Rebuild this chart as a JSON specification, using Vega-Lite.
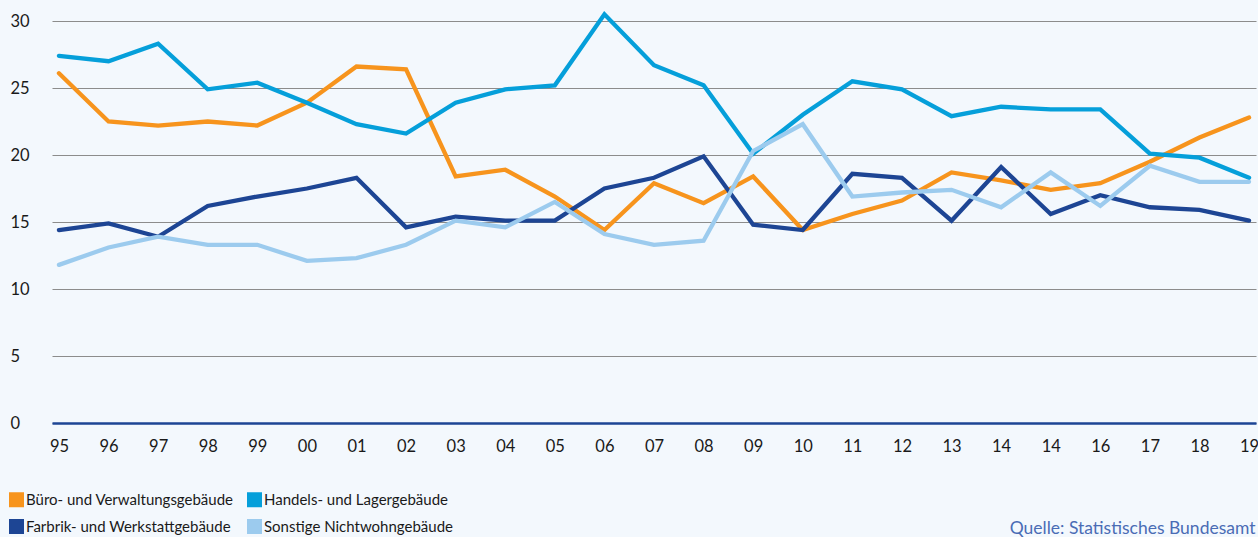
{
  "$schema": "https://vega.github.io/schema/vega-lite/v6.json",
  "autosize": {"type": "none"},
  "padding": {"left": 52, "top": 21, "right": 2, "bottom": 114},
  "width": 1204,
  "height": 402,
  "background": "#f3f8fd",
  "config": {
    "view": {"stroke": null},
    "font": "Lato",
    "axis": {"labelFont": "Lato", "titleFont": "Lato"},
    "legend": {"labelFont": "Lato"}
  },
  "data": {
    "values": [
      {"jahr": "95", "art": "Büro- und Verwaltungsgebäude", "wert": 26.1},
      {"jahr": "96", "art": "Büro- und Verwaltungsgebäude", "wert": 22.5},
      {"jahr": "97", "art": "Büro- und Verwaltungsgebäude", "wert": 22.2},
      {"jahr": "98", "art": "Büro- und Verwaltungsgebäude", "wert": 22.5},
      {"jahr": "99", "art": "Büro- und Verwaltungsgebäude", "wert": 22.2},
      {"jahr": "00", "art": "Büro- und Verwaltungsgebäude", "wert": 23.9},
      {"jahr": "01", "art": "Büro- und Verwaltungsgebäude", "wert": 26.6},
      {"jahr": "02", "art": "Büro- und Verwaltungsgebäude", "wert": 26.4},
      {"jahr": "03", "art": "Büro- und Verwaltungsgebäude", "wert": 18.4},
      {"jahr": "04", "art": "Büro- und Verwaltungsgebäude", "wert": 18.9},
      {"jahr": "05", "art": "Büro- und Verwaltungsgebäude", "wert": 16.9},
      {"jahr": "06", "art": "Büro- und Verwaltungsgebäude", "wert": 14.4},
      {"jahr": "07", "art": "Büro- und Verwaltungsgebäude", "wert": 17.9},
      {"jahr": "08", "art": "Büro- und Verwaltungsgebäude", "wert": 16.4},
      {"jahr": "09", "art": "Büro- und Verwaltungsgebäude", "wert": 18.4},
      {"jahr": "10", "art": "Büro- und Verwaltungsgebäude", "wert": 14.4},
      {"jahr": "11", "art": "Büro- und Verwaltungsgebäude", "wert": 15.6},
      {"jahr": "12", "art": "Büro- und Verwaltungsgebäude", "wert": 16.6},
      {"jahr": "13", "art": "Büro- und Verwaltungsgebäude", "wert": 18.7},
      {"jahr": "14", "art": "Büro- und Verwaltungsgebäude", "wert": 18.1},
      {"jahr": "15", "art": "Büro- und Verwaltungsgebäude", "wert": 17.4},
      {"jahr": "16", "art": "Büro- und Verwaltungsgebäude", "wert": 17.9},
      {"jahr": "17", "art": "Büro- und Verwaltungsgebäude", "wert": 19.5},
      {"jahr": "18", "art": "Büro- und Verwaltungsgebäude", "wert": 21.3},
      {"jahr": "19", "art": "Büro- und Verwaltungsgebäude", "wert": 22.8},
      {"jahr": "95", "art": "Handels- und Lagergebäude", "wert": 27.4},
      {"jahr": "96", "art": "Handels- und Lagergebäude", "wert": 27.0},
      {"jahr": "97", "art": "Handels- und Lagergebäude", "wert": 28.3},
      {"jahr": "98", "art": "Handels- und Lagergebäude", "wert": 24.9},
      {"jahr": "99", "art": "Handels- und Lagergebäude", "wert": 25.4},
      {"jahr": "00", "art": "Handels- und Lagergebäude", "wert": 23.9},
      {"jahr": "01", "art": "Handels- und Lagergebäude", "wert": 22.3},
      {"jahr": "02", "art": "Handels- und Lagergebäude", "wert": 21.6},
      {"jahr": "03", "art": "Handels- und Lagergebäude", "wert": 23.9},
      {"jahr": "04", "art": "Handels- und Lagergebäude", "wert": 24.9},
      {"jahr": "05", "art": "Handels- und Lagergebäude", "wert": 25.2},
      {"jahr": "06", "art": "Handels- und Lagergebäude", "wert": 30.5},
      {"jahr": "07", "art": "Handels- und Lagergebäude", "wert": 26.7},
      {"jahr": "08", "art": "Handels- und Lagergebäude", "wert": 25.2},
      {"jahr": "09", "art": "Handels- und Lagergebäude", "wert": 20.1},
      {"jahr": "10", "art": "Handels- und Lagergebäude", "wert": 23.0},
      {"jahr": "11", "art": "Handels- und Lagergebäude", "wert": 25.5},
      {"jahr": "12", "art": "Handels- und Lagergebäude", "wert": 24.9},
      {"jahr": "13", "art": "Handels- und Lagergebäude", "wert": 22.9},
      {"jahr": "14", "art": "Handels- und Lagergebäude", "wert": 23.6},
      {"jahr": "15", "art": "Handels- und Lagergebäude", "wert": 23.4},
      {"jahr": "16", "art": "Handels- und Lagergebäude", "wert": 23.4},
      {"jahr": "17", "art": "Handels- und Lagergebäude", "wert": 20.1},
      {"jahr": "18", "art": "Handels- und Lagergebäude", "wert": 19.8},
      {"jahr": "19", "art": "Handels- und Lagergebäude", "wert": 18.3},
      {"jahr": "95", "art": "Farbrik- und Werkstattgebäude", "wert": 14.4},
      {"jahr": "96", "art": "Farbrik- und Werkstattgebäude", "wert": 14.9},
      {"jahr": "97", "art": "Farbrik- und Werkstattgebäude", "wert": 13.9},
      {"jahr": "98", "art": "Farbrik- und Werkstattgebäude", "wert": 16.2},
      {"jahr": "99", "art": "Farbrik- und Werkstattgebäude", "wert": 16.9},
      {"jahr": "00", "art": "Farbrik- und Werkstattgebäude", "wert": 17.5},
      {"jahr": "01", "art": "Farbrik- und Werkstattgebäude", "wert": 18.3},
      {"jahr": "02", "art": "Farbrik- und Werkstattgebäude", "wert": 14.6},
      {"jahr": "03", "art": "Farbrik- und Werkstattgebäude", "wert": 15.4},
      {"jahr": "04", "art": "Farbrik- und Werkstattgebäude", "wert": 15.1},
      {"jahr": "05", "art": "Farbrik- und Werkstattgebäude", "wert": 15.1},
      {"jahr": "06", "art": "Farbrik- und Werkstattgebäude", "wert": 17.5},
      {"jahr": "07", "art": "Farbrik- und Werkstattgebäude", "wert": 18.3},
      {"jahr": "08", "art": "Farbrik- und Werkstattgebäude", "wert": 19.9},
      {"jahr": "09", "art": "Farbrik- und Werkstattgebäude", "wert": 14.8},
      {"jahr": "10", "art": "Farbrik- und Werkstattgebäude", "wert": 14.4},
      {"jahr": "11", "art": "Farbrik- und Werkstattgebäude", "wert": 18.6},
      {"jahr": "12", "art": "Farbrik- und Werkstattgebäude", "wert": 18.3},
      {"jahr": "13", "art": "Farbrik- und Werkstattgebäude", "wert": 15.1},
      {"jahr": "14", "art": "Farbrik- und Werkstattgebäude", "wert": 19.1},
      {"jahr": "15", "art": "Farbrik- und Werkstattgebäude", "wert": 15.6},
      {"jahr": "16", "art": "Farbrik- und Werkstattgebäude", "wert": 17.0},
      {"jahr": "17", "art": "Farbrik- und Werkstattgebäude", "wert": 16.1},
      {"jahr": "18", "art": "Farbrik- und Werkstattgebäude", "wert": 15.9},
      {"jahr": "19", "art": "Farbrik- und Werkstattgebäude", "wert": 15.1},
      {"jahr": "95", "art": "Sonstige Nichtwohngebäude", "wert": 11.8},
      {"jahr": "96", "art": "Sonstige Nichtwohngebäude", "wert": 13.1},
      {"jahr": "97", "art": "Sonstige Nichtwohngebäude", "wert": 13.9},
      {"jahr": "98", "art": "Sonstige Nichtwohngebäude", "wert": 13.3},
      {"jahr": "99", "art": "Sonstige Nichtwohngebäude", "wert": 13.3},
      {"jahr": "00", "art": "Sonstige Nichtwohngebäude", "wert": 12.1},
      {"jahr": "01", "art": "Sonstige Nichtwohngebäude", "wert": 12.3},
      {"jahr": "02", "art": "Sonstige Nichtwohngebäude", "wert": 13.3},
      {"jahr": "03", "art": "Sonstige Nichtwohngebäude", "wert": 15.1},
      {"jahr": "04", "art": "Sonstige Nichtwohngebäude", "wert": 14.6},
      {"jahr": "05", "art": "Sonstige Nichtwohngebäude", "wert": 16.5},
      {"jahr": "06", "art": "Sonstige Nichtwohngebäude", "wert": 14.1},
      {"jahr": "07", "art": "Sonstige Nichtwohngebäude", "wert": 13.3},
      {"jahr": "08", "art": "Sonstige Nichtwohngebäude", "wert": 13.6},
      {"jahr": "09", "art": "Sonstige Nichtwohngebäude", "wert": 20.3},
      {"jahr": "10", "art": "Sonstige Nichtwohngebäude", "wert": 22.3},
      {"jahr": "11", "art": "Sonstige Nichtwohngebäude", "wert": 16.9},
      {"jahr": "12", "art": "Sonstige Nichtwohngebäude", "wert": 17.2},
      {"jahr": "13", "art": "Sonstige Nichtwohngebäude", "wert": 17.4},
      {"jahr": "14", "art": "Sonstige Nichtwohngebäude", "wert": 16.1},
      {"jahr": "15", "art": "Sonstige Nichtwohngebäude", "wert": 18.7},
      {"jahr": "16", "art": "Sonstige Nichtwohngebäude", "wert": 16.2},
      {"jahr": "17", "art": "Sonstige Nichtwohngebäude", "wert": 19.2},
      {"jahr": "18", "art": "Sonstige Nichtwohngebäude", "wert": 18.0},
      {"jahr": "19", "art": "Sonstige Nichtwohngebäude", "wert": 18.0}
    ]
  },
  "mark": {"type": "line", "strokeWidth": 4.3, "strokeCap": "round", "strokeJoin": "miter"},
  "encoding": {
    "x": {
      "field": "jahr",
      "type": "ordinal",
      "sort": ["95","96","97","98","99","00","01","02","03","04","05","06","07","08","09","10","11","12","13","14","15","16","17","18","19"],
      "scale": {"type": "point", "padding": 0.14},
      "axis": {
        "labelAngle": 0,
        "labelExpr": "datum.value === '15' ? '14' : datum.value",
        "labelFontSize": 16.5,
        "labelColor": "#1a1a1a",
        "labelPadding": 15,
        "ticks": false,
        "grid": false,
        "domain": true,
        "domainColor": "#1d4594",
        "domainWidth": 2.5,
        "title": "Quelle: Statistisches Bundesamt",
        "titleFontSize": 17.5,
        "titleFontWeight": "normal",
        "titleColor": "#4a6cb5",
        "titleAlign": "right",
        "titleAnchor": "end",
        "titleBaseline": "alphabetic",
        "titleX": 1203,
        "titleY": 110
      }
    },
    "y": {
      "field": "wert",
      "type": "quantitative",
      "scale": {"domain": [0, 30], "nice": false, "zero": true},
      "axis": {
        "values": [0, 5, 10, 15, 20, 25, 30],
        "title": null,
        "grid": true,
        "gridColor": "#8c8c8c",
        "gridWidth": 1.2,
        "domain": false,
        "ticks": false,
        "labelAlign": "left",
        "labelBaseline": "middle",
        "labelPadding": 42,
        "labelFontSize": 16.5,
        "labelColor": "#1a1a1a"
      }
    },
    "color": {
      "field": "art",
      "type": "nominal",
      "scale": {
        "domain": ["Büro- und Verwaltungsgebäude", "Handels- und Lagergebäude", "Farbrik- und Werkstattgebäude", "Sonstige Nichtwohngebäude"],
        "range": ["#f7941d", "#059fda", "#1d4594", "#9ccbee"]
      },
      "legend": {
        "title": null,
        "orient": "none",
        "direction": "horizontal",
        "legendX": -43,
        "legendY": 471,
        "columns": 2,
        "columnPadding": 13,
        "rowPadding": 11,
        "symbolType": "square",
        "symbolSize": 225,
        "symbolStrokeWidth": 0,
        "labelFontSize": 15,
        "labelColor": "#1a1a1a",
        "labelOffset": 2,
        "labelLimit": 400,
        "encode": {
          "symbols": {
            "update": {
              "fill": {"scale": "color", "field": "value"},
              "stroke": {"value": "transparent"}
            }
          }
        }
      }
    }
  }
}
